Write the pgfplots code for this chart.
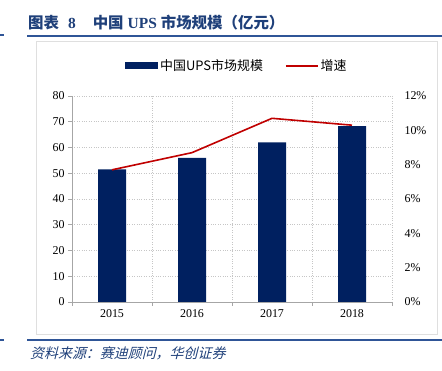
\documentclass[border=0pt]{standalone}
\usepackage{pgfplots}
\pgfplotsset{compat=1.18}
\usepackage{fontspec}
\setmainfont{Liberation Serif}
\newfontfamily\cjk{Noto Sans CJK SC}
\newfontfamily\cjkit{Noto Sans CJK SC}[FakeSlant=0.25]
\definecolor{navy}{RGB}{0,32,96}
\definecolor{myred}{RGB}{192,0,0}
\definecolor{titleblue}{RGB}{31,64,122}
\definecolor{lineblue}{RGB}{47,85,151}
\definecolor{axgray}{RGB}{166,166,166}
\begin{document}
\begin{tikzpicture}
\useasboundingbox (0,0) rectangle (442bp,371bp);
% title and frame
\node[anchor=west, inner sep=0pt, text=titleblue] at (28bp,348bp)
  {\fontsize{15.5}{17}\selectfont\cjk\bfseries 图表\hspace{9bp}{\rmfamily\bfseries 8}\hspace{17bp}中国\hspace{4bp}{\rmfamily\bfseries UPS}\hspace{4bp}市场规模（亿元）};
\draw[lineblue, line width=2bp] (27bp,335bp) -- (442bp,335bp);
\draw[lineblue, line width=1.5bp] (0bp,336bp) -- (4bp,336bp);
\draw[gray!25, line width=1bp] (36bp,36bp) rectangle (437bp,329bp);
\draw[lineblue, line width=1.5bp] (27bp,31bp) -- (442bp,31bp);
\draw[lineblue, line width=1.5bp] (0bp,31bp) -- (4bp,31bp);
\node[anchor=west, inner sep=0pt, text=titleblue] at (30bp,18bp)
  {\fontsize{14}{16}\selectfont\cjkit 资料来源：赛迪顾问，华创证券};
% main axis
\begin{axis}[
  at={(72bp,69bp)}, anchor=south west,
  width=320bp, height=206bp, scale only axis,
  xmin=-0.5, xmax=3.5, ymin=0, ymax=80,
  ytick={0,10,...,80},
  xtick={0,1,2,3}, xticklabels={2015,2016,2017,2018},
  minor xtick={-0.5,0.5,1.5,2.5,3.5},
  major x tick style={draw=none},
  minor tick length=4bp, major tick length=4bp,
  tick align=outside,
  axis x line*=bottom, axis y line*=left,
  axis line style={axgray, line width=0.8bp},
  every tick/.style={axgray, line width=0.8bp},
  xminorgrids=true, ymajorgrids=true,
  minor grid style={dotted, gray!45, line width=0.8bp},
  major grid style={dotted, gray!45, line width=0.8bp},
  tick label style={font=\fontsize{12}{13}\selectfont},
  /pgf/number format/assume math mode=true,
  legend style={at={(axis description cs:0.515,1.146)}, anchor=center,
    draw=none, fill=none, font=\fontsize{13}{15}\selectfont\cjk,
    legend columns=2,
    /tikz/every even column/.append style={column sep=20bp}},
  clip=false,
]
\addplot[ybar, bar width=28bp, fill=navy, draw=none,
  legend image code/.code={\fill[navy] (0bp,-3.5bp) rectangle (33bp,3.5bp);}]
  coordinates {(0,51.5) (1,56.0) (2,62.0) (3,68.3)};
\addlegendentry{中国UPS市场规模}
\addlegendimage{myred, line width=1.6bp,
  legend image code/.code={\draw[myred, line width=1.6bp] (0bp,0bp) -- (32bp,0bp);}}
\addlegendentry{增速}
\end{axis}
% secondary axis
\begin{axis}[
  at={(72bp,69bp)}, anchor=south west,
  width=320bp, height=206bp, scale only axis,
  xmin=-0.5, xmax=3.5, ymin=0, ymax=12,
  ytick={0,2,...,12},
  yticklabel={\pgfmathprintnumber{\tick}\%},
  axis y line*=right, axis x line=none,
  y axis line style={draw=none},
  major tick length=0pt,
  yticklabel style={xshift=9bp},
  tick label style={font=\fontsize{12}{13}\selectfont},
  /pgf/number format/assume math mode=true,
]
\addplot[myred, line width=1.6bp, mark=none]
  coordinates {(0,7.7) (1,8.7) (2,10.7) (3,10.3)};
\end{axis}
\end{tikzpicture}
\end{document}
